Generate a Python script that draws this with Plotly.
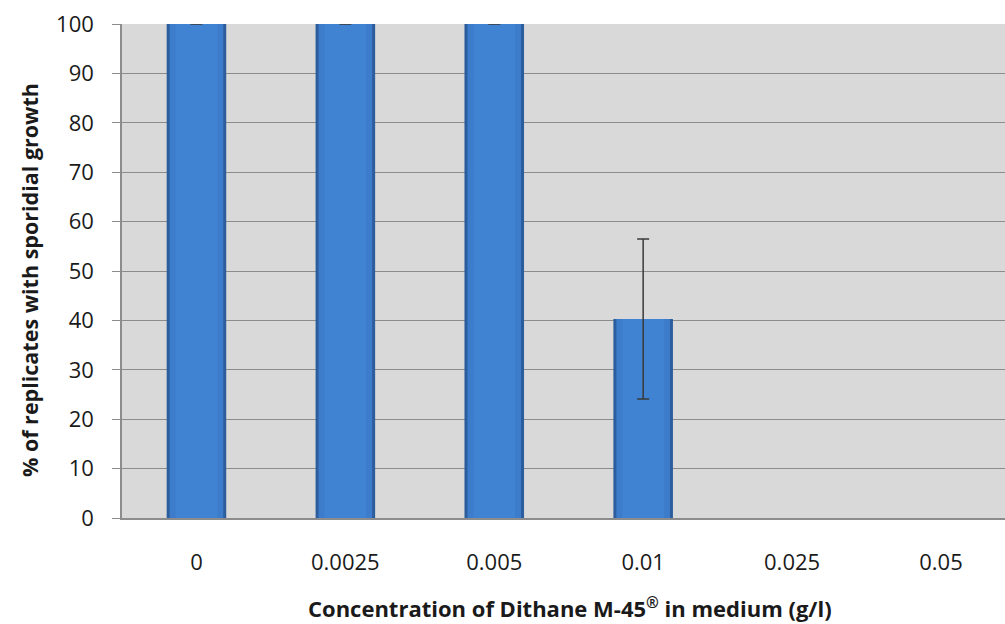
import plotly.graph_objects as go

categories = ["0", "0.0025", "0.005", "0.01", "0.025", "0.05"]
values = [100, 100, 100, 40.3, 0, 0]
errors = [0, 0, 0, 16.2, 0, 0]

x_title = "<b>Concentration of Dithane M-45<sup>®</sup> in medium (g/l)</b>"
y_title = "<b>% of replicates with sporidial growth</b>"

bar_values = [v if v > 0 else None for v in values]
err_values = [e if v > 0 else None for v, e in zip(values, errors)]

FONT = "Open Sans, Liberation Sans, sans-serif"

fig = go.Figure()
# outer (darker edge) layer
fig.add_trace(go.Bar(
    x=categories, y=bar_values, width=0.4,
    marker=dict(color="#2c5d9c", line=dict(width=0)),
    hoverinfo="skip",
))
# inner (lighter body) layer
fig.add_trace(go.Bar(
    x=categories, y=bar_values, width=0.36,
    marker=dict(color="#3d7cca", line=dict(width=0)),
    hoverinfo="skip",
))
# highlight layer
fig.add_trace(go.Bar(
    x=categories, y=bar_values, width=0.28,
    marker=dict(color="#4083d2", line=dict(width=0)),
    error_y=dict(type="data", array=err_values, visible=True,
                 color="#3a3a3a", thickness=1.5, width=6),
))

fig.update_layout(
    width=1005, height=624,
    margin=dict(l=122, r=0, t=24, b=106),
    barmode="overlay",
    paper_bgcolor="white",
    plot_bgcolor="#d9d9d9",
    showlegend=False,
    font=dict(family=FONT, size=22, color="#1a1a1a"),
    xaxis=dict(
        type="category",
        range=[-0.5, 5.43],
        showgrid=False,
        showline=True, linecolor="#8c8c8c", linewidth=1.5,
        ticks="", ticklabelstandoff=24,
        tickfont=dict(size=22),
    ),
    yaxis=dict(
        range=[0, 100],
        tickvals=list(range(0, 101, 10)),
        showgrid=True, gridcolor="#8c8c8c", gridwidth=1.2,
        showline=True, linecolor="#8c8c8c", linewidth=1.5,
        ticks="outside", ticklen=8, tickcolor="#8c8c8c", tickwidth=1.2,
        ticklabelstandoff=14,
        tickfont=dict(size=22),
        zeroline=False,
    ),
    annotations=[
        dict(text=x_title, xref="paper", yref="paper", x=0.507, y=-0.182,
             xanchor="center", yanchor="middle", showarrow=False,
             font=dict(size=22)),
        dict(text=y_title, xref="paper", yref="paper", x=-0.104, y=0.482,
             xanchor="center", yanchor="middle", showarrow=False, textangle=-90,
             font=dict(size=21.5)),
    ],
)

fig.write_html("out.html", config={"displayModeBar": False},
               post_script="document.body.style.margin='0';document.body.style.overflow='hidden';")
